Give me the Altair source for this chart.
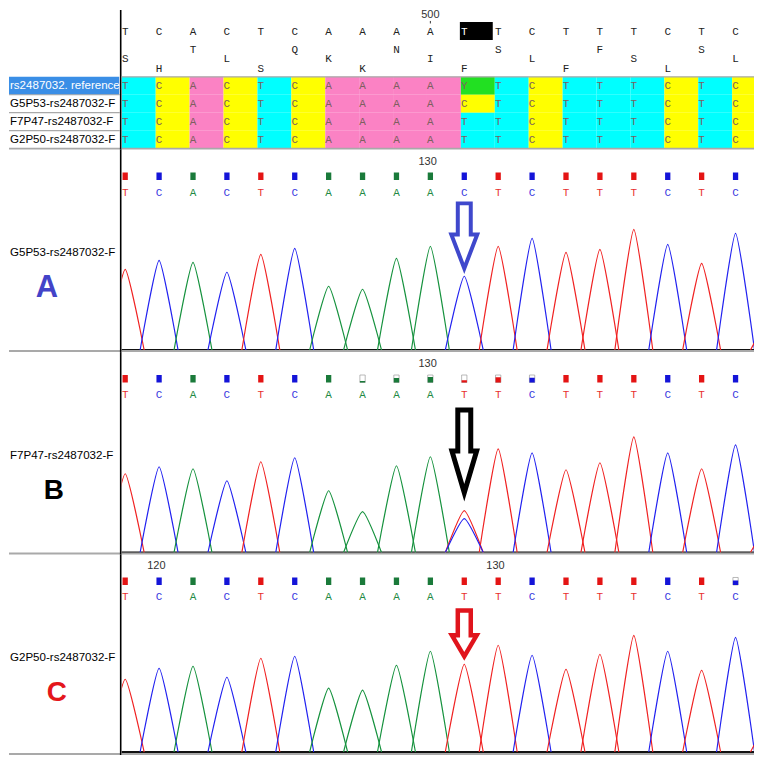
import altair as alt
import pandas as pd

# ------------------------------------------------------------------ data
HEADER_BASES = "TCACTCAAAATTCTTTCTC"
SELECTED_COLUMN = 10
AMINO_ACIDS = "SHTLSQKKNIFSLFFSLSL"
AA_FRAME = [2, 3, 1, 2, 3, 1, 2, 3, 1, 2, 3, 1, 2, 3, 1, 2, 3, 1, 2]
RULER = [(9, "500")]

SAMPLES = ["rs2487032. reference", "G5P53-rs2487032-F", "F7P47-rs2487032-F", "G2P50-rs2487032-F"]
ALIGNED = ["TCACTCAAAAYTCTTTCTC", "TCACTCAAAACTCTTTCTC", "TCACTCAAAATTCTTTCTC", "TCACTCAAAATTCTTTCTC"]

PANELS = ["A", "B", "C"]
PANEL_SAMPLE = {"A": "G5P53-rs2487032-F", "B": "F7P47-rs2487032-F", "C": "G2P50-rs2487032-F"}
CALLS = {"A": "TCACTCAAAACTCTTTCTCT", "B": "TCACTCAAAATTCTTTCTCT", "C": "TCACTCAAAATTCTTTCTCT"}
HEIGHTS_A = [81, 90, 88, 78, 96, 102, 64, 61, 92, 104, 74, 104, 112, 98, 101, 121, 106, 87, 117, 30]
HEIGHTS_B = [79, 86, 84, 72, 91, 95, 62, 41, 87, 96, 42, 104, 100, 83, 90, 116, 100, 84, 108, 28]
HEIGHTS_C = [73, 84, 86, 75, 94, 96, 64, 62, 87, 101, 88, 107, 97, 83, 98, 117, 101, 82, 115, 30]
HEIGHTS = {"A": HEIGHTS_A, "B": HEIGHTS_B, "C": HEIGHTS_C}
SECONDARY_PEAKS = {"A": [], "B": [(10, "C", 34)], "C": []}
QUALITY_A = [1, 1, 1, 1, 1, 1, 1, 1, 1, 1, 1, 1, 1, 1, 1, 1, 1, 1, 1, 1]
QUALITY_B = [1, 1, 1, 1, 1, 1, 1, 0.2, 0.6, 0.75, 0.3, 0.7, 0.65, 1, 1, 1, 1, 1, 1, 1]
QUALITY_C = [1, 1, 1, 1, 1, 1, 1, 1, 1, 1, 1, 1, 1, 1, 1, 1, 1, 1, 0.6, 1]
QUALITY = {"A": QUALITY_A, "B": QUALITY_B, "C": QUALITY_C}
POSITION_MARKS = {"A": [(9, "130"), (19, "140")], "B": [(9, "130"), (19, "140")],
                  "C": [(1, "120"), (11, "130")]}
SNP_COLUMN = 10

# ------------------------------------------------------------------ styles / layout
TRACE_COLORS = {"A": "#16923e", "C": "#2222f0", "T": "#f02222"}
SQUARE_COLORS = {"A": "#1a7a3a", "C": "#1414d8", "T": "#e41414"}
LETTER_COLORS = {"A": "#1f8a45", "C": "#3a3ae0", "T": "#e83030"}
CELL_COLORS = {"A": "#fb82c4", "C": "#ffff00", "T": "#00ffff", "Y": "#22e022"}
BIG_LETTER = {"A": ("#4343c8", 31), "B": ("#000000", 28), "C": ("#e4161c", 28)}
# hollow arrow symbols: (colour, stroke width, offset of centre from panel top, svg path)
ARROW_STYLE = {
    "A": ("#3f48cc", 4.0, 87.5,
          "M -0.1625 -0.84 L 0.1625 -0.84 L 0.1625 -0.06 L 0.325 -0.06 L 0 0.79 L -0.325 -0.06 L -0.1625 -0.06 Z"),
    "B": ("#000000", 5.0, 101.5,
          "M -0.1625 -1.0875 L 0.1625 -1.0875 L 0.1625 -0.06 L 0.31 -0.06 L 0 0.99 L -0.31 -0.06 L -0.1625 -0.06 Z"),
    "C": ("#e0141c", 4.5, 81,
          "M -0.1625 -0.625 L 0.1625 -0.625 L 0.1625 0.0 L 0.31 0.0 L 0 0.525 L -0.31 0.0 L -0.1625 0.0 Z"),
}
ARROW_SIZE = 6400
MONO = "Liberation Mono"
SANS = "Liberation Sans"

ORIGIN_PX = 124.5
BASE_PX = 34.0
LABEL_W = 113
PLOT_W = 634
X_DOMAIN = [(121 - ORIGIN_PX) / BASE_PX, (755 - ORIGIN_PX) / BASE_PX]
LBL_DOMAIN = [8, 121]
HALF_W = 0.56

ROW_TOP, ROW_PX = 75, 18


def hy(ref):
    return (ref - ROW_TOP) / ROW_PX


HEADER_H = 140
HEADER_Y = [hy(8), hy(148)]
# panel: (top, bottom, baseline) in page pixels
GEOM = {"A": (148, 351, 349), "B": (351, 554, 552), "C": (554, 755, 752)}
# offsets from panel top
OFF_SQ_TOP, OFF_SQ_BOT, OFF_LET, OFF_NUM, OFF_LAB, OFF_BIG = 23, 30.5, 43, 12, 104, 139
BIG_X = {"A": 46, "B": 53, "C": 56}
GRAY = "#a9a9a9"


def sx(domain):
    return alt.Scale(domain=domain, nice=False, zero=False)


def xp(field):
    return alt.X(field, type="quantitative", scale=sx(X_DOMAIN), axis=None)


def xl(field):
    return alt.X(field, type="quantitative", scale=sx(LBL_DOMAIN), axis=None)


def yh(field):
    return alt.Y(field, type="quantitative", scale=alt.Scale(domain=HEADER_Y, nice=False, zero=False, reverse=True), axis=None)


def yp(field, dom):
    return alt.Y(field, type="quantitative", scale=sx(dom), axis=None)


# ------------------------------------------------------------------ header
cells = pd.DataFrame([
    {"x": i - 0.1, "x2": i + 0.9, "y": r, "y2": r + 1, "xc": i, "yc": r + 0.5,
     "base": b, "fill": CELL_COLORS[b]}
    for r, seq in enumerate(ALIGNED) for i, b in enumerate(seq)])
hdr_bases = pd.DataFrame([
    {"x": i, "y": hy(30), "t": b, "color": "#ffffff" if i == SELECTED_COLUMN else "#222222"}
    for i, b in enumerate(HEADER_BASES)])
aa = pd.DataFrame([
    {"x": i, "y": {1: hy(48), 2: hy(57.5), 3: hy(67.5)}[f], "t": a}
    for i, (a, f) in enumerate(zip(AMINO_ACIDS, AA_FRAME))])
ruler = pd.DataFrame([{"x": i, "y": hy(13), "t": t} for i, t in RULER])
ruler_tick = pd.DataFrame([{"x": i, "y": hy(19), "y2": hy(21.5)} for i, t in RULER])
sel = pd.DataFrame([{"x": SELECTED_COLUMN - 0.13, "x2": SELECTED_COLUMN + 0.84, "y": hy(20), "y2": hy(38)}])
hlines = pd.DataFrame([{"y": 0.0, "w": 1.2}, {"y": hy(147), "w": 2.0}])

header_plot = alt.layer(
    alt.Chart(cells).mark_rect(clip=True).encode(x=xp("x"), x2="x2", y=yh("y"), y2="y2",
                                                  color=alt.Color("fill:N", scale=None)),
    alt.Chart(cells).mark_text(font=MONO, fontSize=11, color="#7d5f5f", baseline="middle", clip=True).encode(
        x=xp("xc"), y=yh("yc"), text="base:N"),
    alt.Chart(sel).mark_rect(color="#000000", clip=True).encode(x=xp("x"), x2="x2", y=yh("y"), y2="y2"),
    alt.Chart(hdr_bases).mark_text(font=MONO, fontSize=11, baseline="middle", clip=True).encode(
        x=xp("x"), y=yh("y"), text="t:N", color=alt.Color("color:N", scale=None)),
    alt.Chart(aa).mark_text(font=MONO, fontSize=11, baseline="middle", color="#222222", clip=True).encode(
        x=xp("x"), y=yh("y"), text="t:N"),
    alt.Chart(ruler).mark_text(font=SANS, fontSize=11, baseline="middle", color="#333333", clip=True).encode(
        x=xp("x"), y=yh("y"), text="t:N"),
    alt.Chart(ruler_tick).mark_rule(color="#333333", strokeWidth=1).encode(x=xp("x"), y=yh("y"), y2="y2"),
    alt.Chart(hlines).mark_rule(color=GRAY).encode(y=yh("y"), strokeWidth=alt.StrokeWidth("w:Q", scale=None)),
).properties(width=PLOT_W, height=HEADER_H)

lbl_rows = pd.DataFrame([
    {"x": 9, "y": r + 0.5, "t": s, "color": "#ffffff" if r == 0 else "#000000"}
    for r, s in enumerate(SAMPLES)])
lbl_sel = pd.DataFrame([{"x": 8, "x2": 118.5, "y": 0, "y2": 1}])
lbl_seps = pd.DataFrame([{"x": 8, "x2": 119, "y": r} for r in (1, 2, 3)])
vline = pd.DataFrame([{"x": 120}])

header_label = alt.layer(
    alt.Chart(lbl_sel).mark_rect(color="#3a8ee6").encode(x=xl("x"), x2="x2", y=yh("y"), y2="y2"),
    alt.Chart(lbl_seps).mark_rule(color=GRAY, strokeWidth=1.2).encode(x=xl("x"), x2="x2", y=yh("y")),
    alt.Chart(hlines.iloc[[1]]).mark_rule(color=GRAY, strokeWidth=2).encode(y=yh("y")),
    alt.Chart(lbl_rows).mark_text(font=SANS, fontSize=11.6, align="left", baseline="middle", clip=True).encode(
        x=xl("x"), y=yh("y"), text="t:N", color=alt.Color("color:N", scale=None)),
    alt.Chart(vline).mark_rule(color="#000000", strokeWidth=1.6).encode(x=xl("x")),
).properties(width=LABEL_W, height=HEADER_H)


# ------------------------------------------------------------------ panels
def peak_rows(key, i, b, ht, tag):
    pid = f"{key}{i}{tag}"
    col = TRACE_COLORS[b]
    return [{"pid": pid, "col": col, "x": i - HALF_W, "y": 0},
            {"pid": pid, "col": col, "x": i, "y": ht},
            {"pid": pid, "col": col, "x": i + HALF_W, "y": 0}]


def panel(k):
    top, bottom, base = GEOM[k]
    dom = [base - bottom, base - top]
    ytop = base - top
    h = bottom - top
    rows = []
    for i, (b, ht) in enumerate(zip(CALLS[k], HEIGHTS[k])):
        rows += peak_rows(k, i, b, ht, "p")
    for i, b, ht in SECONDARY_PEAKS[k]:
        rows += peak_rows(k, i, b, ht, "s")
    peaks = pd.DataFrame(rows)
    sq_lo, sq_hi = ytop - OFF_SQ_BOT, ytop - OFF_SQ_TOP
    calls = pd.DataFrame([
        {"x": i, "x1": i - 0.078, "x2": i + 0.078, "y": sq_lo, "yq": sq_lo + (sq_hi - sq_lo) * q, "yt": sq_hi,
         "ylab": ytop - OFF_LET, "t": b, "sq": SQUARE_COLORS[b], "lc": LETTER_COLORS[b], "q": q}
        for i, (b, q) in enumerate(zip(CALLS[k], QUALITY[k]))])
    partial = calls[calls["q"] < 1]
    marks = pd.DataFrame([{"x": i - 0.08, "y": ytop - OFF_NUM, "t": t} for i, t in POSITION_MARKS[k]])
    zero = pd.DataFrame([{"y": 0}])
    sep = pd.DataFrame([{"y": dom[0] + 1}])
    a_col, a_sw, a_off, a_path = ARROW_STYLE[k]
    arrow = pd.DataFrame([{"x": SNP_COLUMN, "y": ytop - a_off}])

    plot = alt.layer(
        alt.Chart(zero).mark_rule(color="#111111", strokeWidth=2).encode(y=yp("y", dom)),
        alt.Chart(peaks).mark_line(interpolate="cardinal", tension=0.5, strokeWidth=1.15, clip=True).encode(
            x=xp("x"), y=yp("y", dom), detail="pid:N",
            color=alt.Color("col:N", scale=None)),
        alt.Chart(partial).mark_rect(fill="#ffffff", stroke="#9a9a9a", strokeWidth=0.7, clip=True).encode(
            x=xp("x1"), x2="x2", y=yp("y", dom), y2="yt"),
        alt.Chart(calls).mark_rect(clip=True).encode(
            x=xp("x1"), x2="x2", y=yp("y", dom), y2="yq", color=alt.Color("sq:N", scale=None)),
        alt.Chart(calls).mark_text(font=MONO, fontSize=11, baseline="middle", clip=True).encode(
            x=xp("x"), y=yp("ylab", dom), text="t:N", color=alt.Color("lc:N", scale=None)),
        alt.Chart(marks).mark_text(font=SANS, fontSize=11, baseline="middle", color="#333333", clip=True).encode(
            x=xp("x"), y=yp("y", dom), text="t:N"),
        alt.Chart(arrow).mark_point(shape=a_path, size=ARROW_SIZE, filled=False, stroke=a_col,
                                    strokeWidth=a_sw, opacity=1, strokeOpacity=1).encode(
            x=xp("x"), y=yp("y", dom)),
        alt.Chart(sep).mark_rule(color=GRAY, strokeWidth=2).encode(y=yp("y", dom)),
    ).properties(width=PLOT_W, height=h)

    color, size = BIG_LETTER[k]
    lab = pd.DataFrame([{"x": 9, "y": ytop - OFF_LAB, "t": PANEL_SAMPLE[k]}])
    big = pd.DataFrame([{"x": BIG_X[k], "y": ytop - OFF_BIG, "t": k}])
    label = alt.layer(
        alt.Chart(lab).mark_text(font=SANS, fontSize=11.6, align="left", baseline="middle", color="#000000",
                                 clip=True).encode(x=xl("x"), y=yp("y", dom), text="t:N"),
        alt.Chart(big).mark_text(font=SANS, fontSize=size, fontWeight="bold", align="center", baseline="middle",
                                 color=color).encode(x=xl("x"), y=yp("y", dom), text="t:N"),
        alt.Chart(sep).mark_rule(color=GRAY, strokeWidth=2).encode(y=yp("y", dom)),
        alt.Chart(vline).mark_rule(color="#000000", strokeWidth=1.6).encode(x=xl("x")),
    ).properties(width=LABEL_W, height=h)
    return [label, plot]


cells_list = [header_label, header_plot]
for k in PANELS:
    cells_list += panel(k)

chart = alt.concat(*cells_list, columns=2, spacing=0, bounds="flush", align="each").properties(
    padding=0, background="#ffffff"
).configure_view(stroke=None).resolve_scale(x="independent", y="independent", color="independent")

chart.save("out.html", embed_options={"renderer": "svg", "actions": False})
